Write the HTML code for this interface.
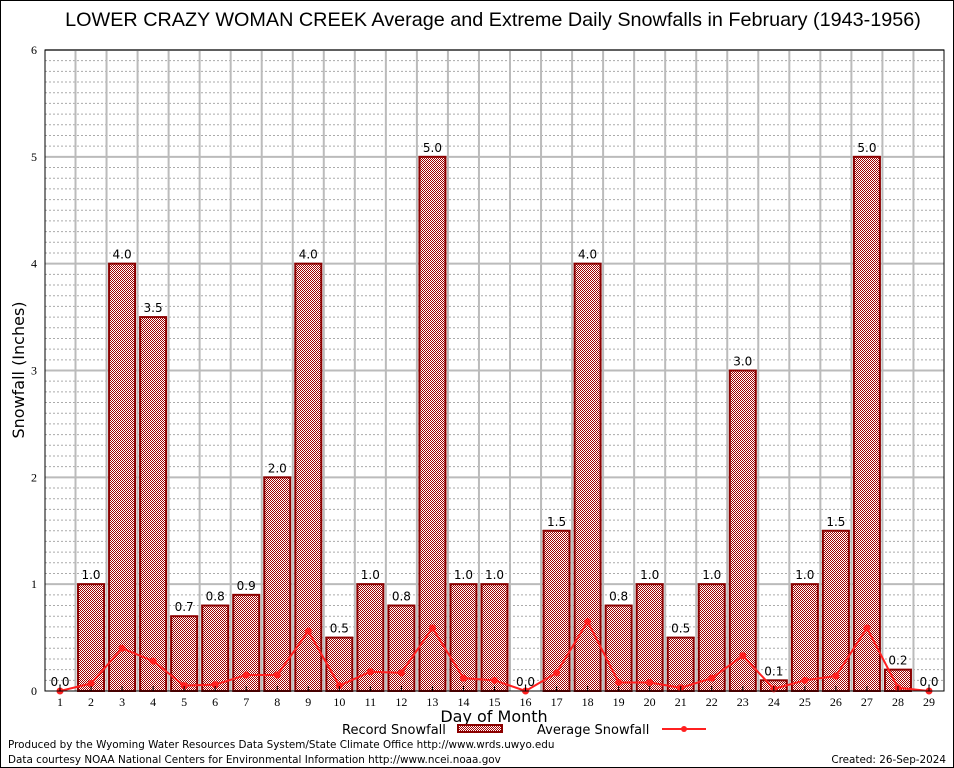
<!DOCTYPE html>
<html><head><meta charset="utf-8"><style>
body{margin:0;background:#fff;}
svg{display:block;font-family:"DejaVu Sans","Liberation Sans",sans-serif;}
</style></head><body>
<svg id="c" width="954" height="768">
<defs>
<pattern id="chk" width="2" height="2" patternUnits="userSpaceOnUse">
<rect width="2" height="2" fill="#fff"/>
<rect width="1" height="1" fill="#a00000"/>
<rect x="1" y="1" width="1" height="1" fill="#a00000"/>
</pattern>
</defs>
<rect x="0.5" y="0.5" width="953" height="767" fill="none" stroke="#000"/>
<text x="493" y="26" font-size="19.8" text-anchor="middle" font-family="Liberation Sans, sans-serif">LOWER CRAZY WOMAN CREEK Average and Extreme Daily Snowfalls in February (1943-1956)</text>
<g id="grid"></g>
<g id="bars"></g>
<g id="line"></g>
<g id="axes"></g>
<text x="24" y="370" font-size="16" text-anchor="middle" transform="rotate(-90 24 370)">Snowfall (Inches)</text>
<text x="494" y="722" font-size="16" text-anchor="middle">Day of Month</text>
<g>
<text x="342" y="734" font-size="13">Record Snowfall</text>
<rect x="458" y="725" width="44" height="7" fill="url(#chk)" stroke="#8b0000" stroke-width="2"/>
<text x="537" y="734" font-size="13">Average Snowfall</text>
<line x1="662" y1="729" x2="706" y2="729" stroke="#ff2020" stroke-width="2"/>
<circle cx="684" cy="729" r="3" fill="#ff2020"/>
</g>
<text x="8" y="748" font-size="10.4">Produced by the Wyoming Water Resources Data System/State Climate Office http://www.wrds.uwyo.edu</text>
<text x="8" y="763" font-size="10.4">Data courtesy NOAA National Centers for Environmental Information http://www.ncei.noaa.gov</text>
<text x="946" y="763" font-size="10.4" text-anchor="end">Created: 26-Sep-2024</text>
</svg>
<script>
const days=[1,2,3,4,5,6,7,8,9,10,11,12,13,14,15,16,17,18,19,20,21,22,23,24,25,26,27,28,29];
const recordVals=[0,1.0,4.0,3.5,0.7,0.8,0.9,2.0,4.0,0.5,1.0,0.8,5.0,1.0,1.0,0,1.5,4.0,0.8,1.0,0.5,1.0,3.0,0.1,1.0,1.5,5.0,0.2,0];
const avgVals=[0,0.07,0.4,0.28,0.05,0.06,0.15,0.15,0.56,0.05,0.18,0.17,0.59,0.12,0.1,0,0.17,0.65,0.08,0.08,0.03,0.12,0.33,0.02,0.1,0.14,0.59,0.03,0];
const yTicks=[0,1,2,3,4,5,6];
const NS="http://www.w3.org/2000/svg";
const L=45,R=944,T=50,B=691;
const x=d=>60+(d-1)*(929-60)/28;
const y=v=>B-v*(B-T)/6;
function mk(tag,attrs,parent){const e=document.createElementNS(NS,tag);for(const k in attrs)e.setAttribute(k,attrs[k]);parent.appendChild(e);return e;}
const g=document.getElementById('grid'),gb=document.getElementById('bars'),gl=document.getElementById('line'),ga=document.getElementById('axes');
for(let i=1;i<60;i++){if(i%10===0)continue;const v=i/10;
const el=mk('line',{x1:L,x2:R,y1:y(v),y2:y(v),stroke:'#aaa','stroke-dasharray':'2,2','stroke-width':1},g);

}
yTicks.forEach(v=>{if(v>0){const el=mk('line',{x1:L,x2:R,y1:y(v),y2:y(v),stroke:'#bbb','stroke-width':2},g);

}
const t=mk('text',{x:L-8,y:y(v)+4,'font-size':12,'text-anchor':'end','font-family':'Liberation Serif, serif'},ga);t.textContent=v;

});
days.forEach((d,i)=>{if(i<days.length-1){const el=mk('line',{x1:x(d)+15.5,x2:x(d)+15.5,y1:T,y2:B,stroke:'#bbb','stroke-width':2},g);

}
const v=recordVals[i];
if(v>0){const r=mk('rect',{x:x(d)-13,y:y(v),width:26,height:B-y(v),fill:'url(#chk)',stroke:'#8b0000','stroke-width':2},gb);

}
const lb=mk('text',{x:x(d),y:y(v)-5,'font-size':12,'text-anchor':'middle'},gb);lb.textContent=v.toFixed(1);


const t=mk('text',{x:x(d),y:B+15,'font-size':12,'text-anchor':'middle','font-family':'Liberation Serif, serif'},ga);t.textContent=d;


const tk=mk('line',{x1:x(d),x2:x(d),y1:B,y2:B-5,stroke:'#000'},ga);

});
const pl=mk('polyline',{points:days.map((d,i)=>x(d)+','+y(avgVals[i])).join(' '),fill:'none',stroke:'#ff2020','stroke-width':2},gl);


days.forEach((d,i)=>{const c=mk('circle',{cx:x(d),cy:y(avgVals[i]),r:3.5,fill:'#ff2020'},gl);

});
const fr=mk('rect',{x:L,y:T,width:R-L,height:B-T,fill:'none',stroke:'#000','stroke-width':1},ga);


</script>
</body></html>
